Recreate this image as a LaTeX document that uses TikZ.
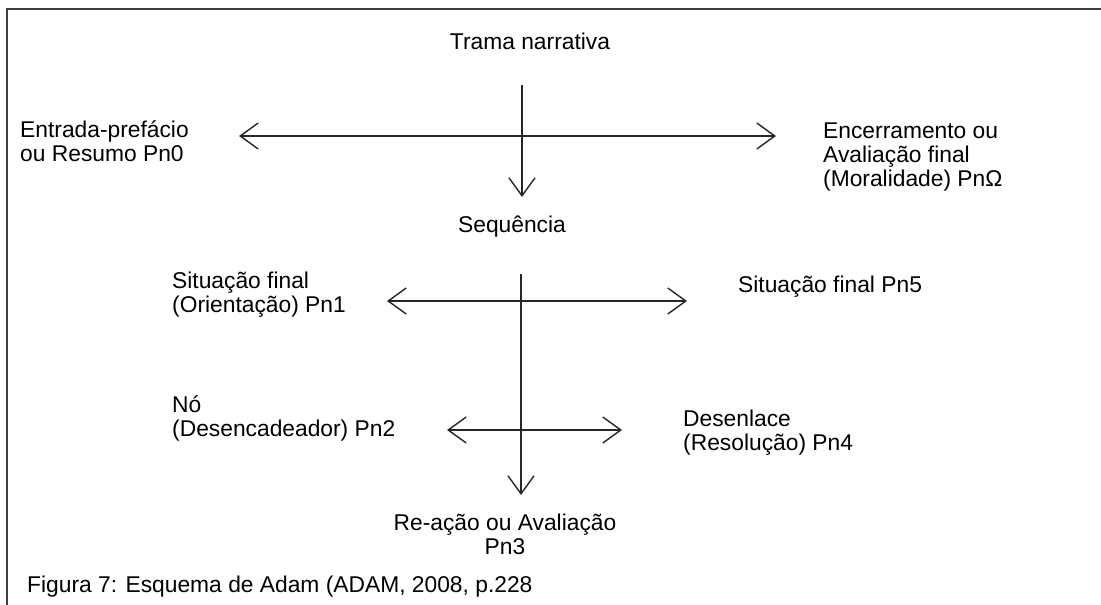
\documentclass[tikz,border=0pt]{standalone}
\usepackage{fontspec}
\setmainfont{Liberation Sans}
\usetikzlibrary{arrows.meta, positioning}

\begin{document}
\begin{tikzpicture}[
                x=1pt, y=-1pt,
                every node/.style={inner sep=0pt, font=\fontsize{22.8}{24}\selectfont},
                label/.style={align=left, anchor=west},
                title/.style={align=center},
                arrow/.style={-{Straight Barb[length=18pt, width=26pt, line width=1.4pt]}, line width=1.6pt, draw=black!85},
                biarrow/.style={{Straight Barb[length=18pt, width=26pt, line width=1.4pt]}-{Straight Barb[length=18pt, width=26pt, line width=1.4pt]}, line width=1.6pt, draw=black!85}]
            \useasboundingbox (0,0) rectangle (1101,605);
            % Cadre
            \draw[line width=2.5pt, black!75] (1101,9) -- (7,9) -- (7,605);

            % Textes
            \node[title] (trama) at (530,41) {Trama narrativa};
            \node[label] (entrada) at (20,141) {Entrada-prefácio\\ou Resumo Pn0};
            \node[label] (encerr) at (823,157) {Encerramento ou\\Avaliação final\\(Moralidade) PnΩ};
            \node[title] (seq) at (512,227) {Sequência};
            \node[label] (pn1) at (172,295) {Situação final\\(Orientação) Pn1};
            \node[label] (pn5) at (738,287) {Situação final Pn5};
            \node[label] (pn2) at (172,418) {Nó\\(Desencadeador) Pn2};
            \node[label] (pn4) at (683,433) {Desenlace\\(Resolução) Pn4};
            \node[title] (pn3) at (505,534) {Re-ação ou Avaliação\\Pn3};
            \node[label] (fig) at (27,587) {Figura 7: Esquema de Adam (ADAM, 2008, p.228};

            % Extremites des fleches
            \coordinate (t1) at (522,85);
            \coordinate (b1) at (522,197);
            \coordinate (l1) at (239,136);
            \coordinate (r1) at (776,136);
            \coordinate (t2) at (521,274);
            \coordinate (b2) at (521,495);
            \coordinate (l2) at (387,301);
            \coordinate (r2) at (687,301);
            \coordinate (l3) at (447,430);
            \coordinate (r3) at (622,430);

            % Fleches
            \draw[arrow] (t1) -- (b1);
            \draw[biarrow] (l1) -- (r1);
            \draw[arrow] (t2) -- (b2);
            \draw[biarrow] (l2) -- (r2);
            \draw[biarrow] (l3) -- (r3);

        \end{tikzpicture}
\end{document}
